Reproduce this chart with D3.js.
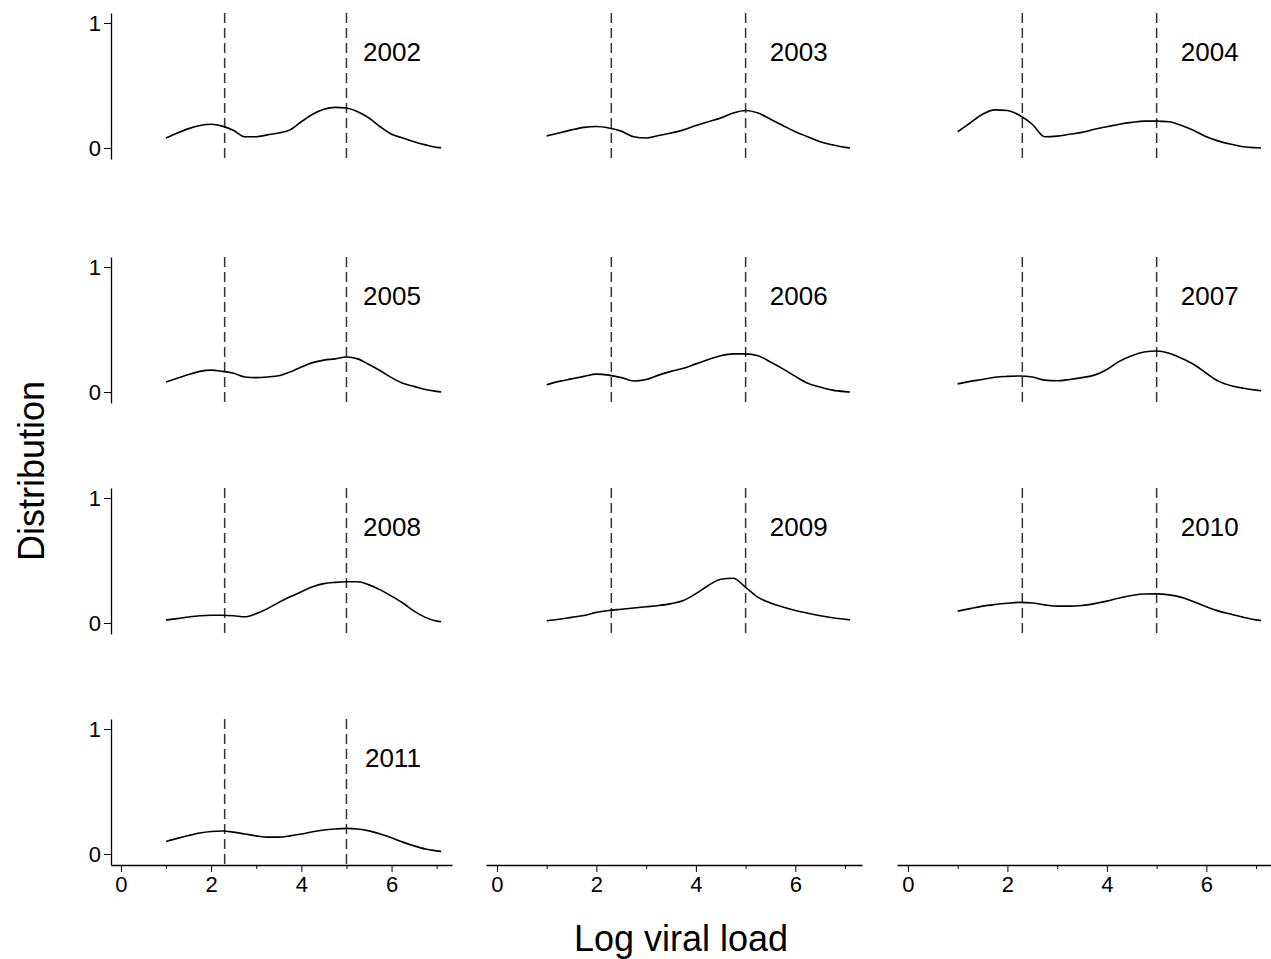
<!DOCTYPE html>
<html>
<head>
<meta charset="utf-8">
<script src="https://cdn.jsdelivr.net/npm/d3@7"></script>
<style>
  body { margin: 0; background: #fff; }
  svg, svg text { font-family: "Liberation Sans", Arial, sans-serif; }
</style>
</head>
<body>
<svg id="chart" width="1271" height="959"></svg>
<script>
// x grid shared by all the density curves
var xs = [1, 1.25, 1.5, 1.75, 2, 2.25, 2.5, 2.75, 3, 3.25, 3.5, 3.75, 4,
          4.25, 4.5, 4.75, 5, 5.25, 5.5, 5.75, 6, 6.25, 6.5, 6.75, 7, 7.1];

var years = ["2002", "2003", "2004", "2005", "2006", "2007", "2008", "2009", "2010", "2011"];

var d2002 = [0.08, 0.12, 0.155, 0.18, 0.19, 0.175, 0.14, 0.09, 0.09, 0.105, 0.12, 0.145, 0.21,
             0.27, 0.31, 0.325, 0.32, 0.29, 0.24, 0.17, 0.11, 0.08, 0.05, 0.025, 0.005, 0.003];
var d2003 = [0.097, 0.12, 0.145, 0.165, 0.172, 0.16, 0.135, 0.09, 0.08, 0.1, 0.12, 0.145, 0.18,
             0.21, 0.24, 0.28, 0.3, 0.28, 0.23, 0.18, 0.13, 0.09, 0.05, 0.025, 0.005, 0];
var d2004 = [0.13, 0.2, 0.27, 0.305, 0.3, 0.26, 0.19, 0.09, 0.095, 0.11, 0.125, 0.15, 0.17,
             0.19, 0.205, 0.215, 0.215, 0.21, 0.18, 0.14, 0.09, 0.055, 0.03, 0.01, 0.002, 0];
var d2005 = [0.08, 0.11, 0.14, 0.165, 0.175, 0.165, 0.15, 0.12, 0.115, 0.12, 0.13, 0.16, 0.2,
             0.235, 0.255, 0.265, 0.28, 0.265, 0.22, 0.17, 0.115, 0.07, 0.045, 0.02, 0.005, 0];
var d2006 = [0.058, 0.085, 0.105, 0.125, 0.143, 0.135, 0.115, 0.088, 0.1, 0.135, 0.165, 0.19, 0.225,
             0.26, 0.29, 0.305, 0.305, 0.29, 0.24, 0.185, 0.125, 0.07, 0.04, 0.015, 0.003, 0];
var d2007 = [0.065, 0.085, 0.1, 0.118, 0.125, 0.128, 0.12, 0.095, 0.09, 0.1, 0.115, 0.135, 0.18,
             0.245, 0.29, 0.32, 0.328, 0.31, 0.27, 0.22, 0.15, 0.085, 0.05, 0.03, 0.015, 0.01];
var d2008 = [0.025, 0.035, 0.048, 0.058, 0.062, 0.062, 0.058, 0.05, 0.075, 0.115, 0.165, 0.21, 0.25,
             0.29, 0.315, 0.325, 0.33, 0.33, 0.305, 0.265, 0.215, 0.16, 0.095, 0.045, 0.015, 0.01];
var d2009 = [0.018, 0.03, 0.045, 0.06, 0.085, 0.1, 0.11, 0.12, 0.13, 0.14, 0.155, 0.18, 0.235,
             0.3, 0.35, 0.358, 0.285, 0.205, 0.16, 0.128, 0.1, 0.078, 0.058, 0.042, 0.03, 0.025];
var d2010 = [0.095, 0.115, 0.135, 0.148, 0.158, 0.165, 0.16, 0.145, 0.135, 0.135, 0.14, 0.155, 0.175,
             0.2, 0.22, 0.232, 0.233, 0.225, 0.205, 0.17, 0.13, 0.095, 0.07, 0.045, 0.025, 0.02];
var d2011 = [0.1, 0.125, 0.148, 0.168, 0.18, 0.184, 0.175, 0.16, 0.145, 0.135, 0.135, 0.145, 0.16,
             0.178, 0.192, 0.2, 0.205, 0.2, 0.185, 0.16, 0.13, 0.095, 0.065, 0.04, 0.025, 0.02];

var series = [d2002, d2003, d2004, d2005, d2006, d2007, d2008, d2009, d2010, d2011];

// reference lines and tick values
var refLines = [2.3, 5];
var xMajor = [0, 2, 4, 6];
var xMinor = [1, 3, 5, 7];
var yTicks = [0, 1];

// panel geometry
var colRanges = [[111, 452], [486, 862], [897, 1273]];
var rowZero = [148, 392, 623, 854];
var yUnit = 125;
var xDomain = [-0.22, 7.34];
var yDomain = [-0.088, 1.08];
var fontFam = "Liberation Sans, Arial, sans-serif";

var svg = d3.select("#chart");

series.forEach(function(vals, i) {
    var col = i % 3, row = Math.floor(i / 3);
    var x = d3.scaleLinear().domain(xDomain).range(colRanges[col]);
    var y0 = rowZero[row];
    var y = d3.scaleLinear().domain(yDomain)
              .range([y0 - yDomain[0] * yUnit, y0 - yDomain[1] * yUnit]);

    var g = svg.append("g");

    // dashed reference lines
    g.selectAll(".ref")
        .data(refLines)
        .enter()
        .append("line")
        .attr("x1", function(d) { return x(d); })
        .attr("x2", function(d) { return x(d); })
        .attr("y1", y(yDomain[1]))
        .attr("y2", y(yDomain[0]))
        .attr("stroke", "#333")
        .attr("stroke-width", 1.5)
        .attr("stroke-dasharray", "10,5");

    // density curve
    var line = d3.line()
        .x(function(d, j) { return x(xs[j]); })
        .y(function(d) { return y(d); })
        .curve(d3.curveMonotoneX);
    g.append("path")
        .datum(vals)
        .attr("d", line)
        .attr("fill", "none")
        .attr("stroke", "#000")
        .attr("stroke-width", 1.6);

    // year label
    g.append("text")
        .attr("x", x(6.65))
        .attr("y", y(0.70))
        .attr("text-anchor", "end")
        .style("font-size", "26px")
        .text(years[i]);

    // y axis on the left column only
    if (col === 0) {
        var ya = g.append("g")
            .attr("transform", "translate(" + colRanges[0][0] + ",0)")
            .call(d3.axisLeft(y).tickValues(yTicks).tickFormat(d3.format("d"))
                  .tickSize(7).tickPadding(3).tickSizeOuter(0));
        ya.attr("font-family", fontFam).attr("font-size", 22);
        ya.select(".domain").attr("stroke-width", 1.3);
        ya.selectAll("text").style("font-size", "22px").attr("fill", "#000");
    }
});

// x axes under the bottom of each column
colRanges.forEach(function(r, col) {
    var x = d3.scaleLinear().domain(xDomain).range(r);
    var axisY = rowZero[3] - yDomain[0] * yUnit;
    var ax = svg.append("g")
        .attr("transform", "translate(0," + axisY + ")")
        .call(d3.axisBottom(x).tickValues(xMajor).tickFormat(d3.format("d"))
              .tickSize(7).tickPadding(4).tickSizeOuter(0));
    ax.attr("font-family", fontFam).attr("font-size", 22);
    ax.select(".domain").attr("stroke-width", 1.3);
    ax.selectAll("text").style("font-size", "22px").attr("fill", "#000");

    svg.append("g")
        .attr("transform", "translate(0," + axisY + ")")
        .call(d3.axisBottom(x).tickValues(xMinor).tickFormat("")
              .tickSize(4).tickSizeOuter(0))
        .select(".domain").remove();
});

// axis titles
svg.append("text")
    .attr("transform", "translate(44,471) rotate(-90)")
    .attr("text-anchor", "middle")
    .style("font-size", "36px")
    .text("Distribution");

svg.append("text")
    .attr("x", 681)
    .attr("y", 951)
    .attr("text-anchor", "middle")
    .style("font-size", "36px")
    .text("Log viral load");
</script>
</body>
</html>
